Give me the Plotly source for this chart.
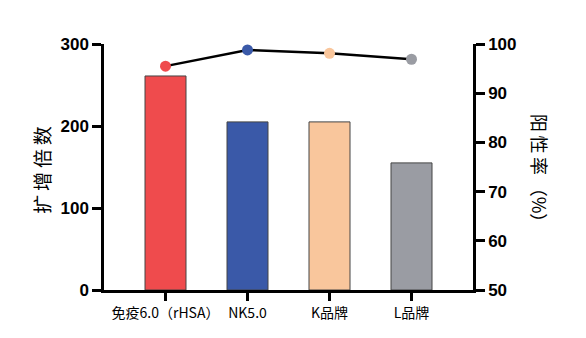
import plotly.graph_objects as go

categories = ["免疫6.0（rHSA）", "NK5.0", "K品牌", "L品牌"]
fold_expansion = [261, 205, 205, 155]
positive_rate = [95.5, 98.8, 98.1, 96.9]
bar_colors = ["#EF4B4D", "#3A59A8", "#F9C69C", "#9A9CA3"]
left_ticks = [0, 100, 200, 300]
right_ticks = [50, 60, 70, 80, 90, 100]

fig = go.Figure()
fig.add_trace(go.Bar(
    x=categories, y=fold_expansion, width=0.5,
    marker=dict(color=bar_colors, line=dict(color="#444444", width=1)),
    showlegend=False,
))
fig.add_trace(go.Scatter(
    x=categories, y=positive_rate, yaxis="y2", mode="lines+markers",
    line=dict(color="black", width=2.5),
    marker=dict(color=bar_colors, size=11, line=dict(width=0)),
    cliponaxis=False, showlegend=False,
))

tickfont = dict(family="Liberation Sans, Arial", size=17, color="black", weight="bold")
fig.update_layout(
    width=586, height=338,
    margin=dict(l=104, r=113, t=44, b=48),
    plot_bgcolor="white", paper_bgcolor="white",
    xaxis=dict(
        range=[-0.75, 3.75], showline=True, linecolor="black", linewidth=2.5,
        ticks="outside", ticklen=8, tickwidth=2.5, tickcolor="black",
        tickfont=dict(family="Noto Sans CJK SC", size=14, color="black"),
        showgrid=False, zeroline=False,
    ),
    yaxis=dict(
        range=[0, 300], tickvals=left_ticks, showline=True, linecolor="black", linewidth=2.5,
        ticks="outside", ticklen=9, tickwidth=2.5, tickcolor="black",
        tickfont=tickfont, showgrid=False, zeroline=False,
    ),
    yaxis2=dict(
        range=[50, 100], tickvals=right_ticks, overlaying="y", side="right",
        showline=True, linecolor="black", linewidth=2.5,
        ticks="outside", ticklen=9, tickwidth=2.5, tickcolor="black",
        tickfont=tickfont, showgrid=False, zeroline=False,
    ),
    annotations=[
        dict(text="扩\u2009增\u2009倍\u2009数", xref="paper", yref="paper", x=-62/369, y=0.485,
             xanchor="center", yanchor="middle", textangle=-90, showarrow=False,
             font=dict(family="Noto Sans CJK SC", size=19, color="black")),
        dict(text="阳\u2009性\u2009率\u2009（%）", xref="paper", yref="paper", x=1 + 67/369, y=0.48,
             xanchor="center", yanchor="middle", textangle=90, showarrow=False,
             font=dict(family="Noto Sans CJK SC", size=18, color="black")),
    ],
)
fig.write_html("out.html")
